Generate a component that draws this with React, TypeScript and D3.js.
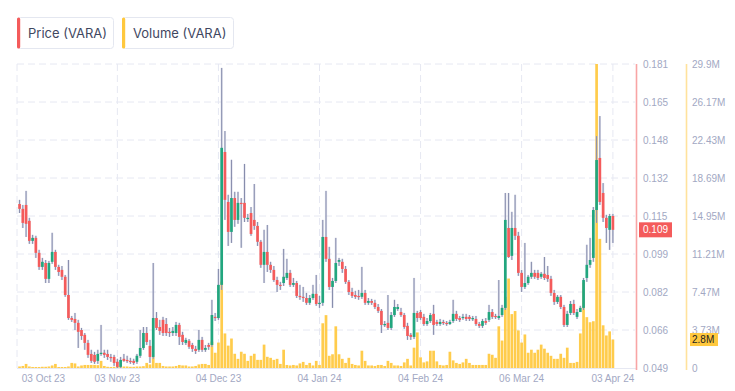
import React from "react";
import * as d3 from "d3";

// ---- data (daily candles starting 2023-10-04) ----
const START_DATE = "2023-10-04";

const open = [
.1202,.1181,.1198,.1129,.1042,.1055,.0990,.0929,.0946,.0877,
.0951,.0994,.0929,.0916,.0886,.0807,.0707,.0703,.0686,.0655,
.0634,.0599,.0551,.0547,.0521,.0551,.0556,.0551,.0538,.0538,
.0517,.0495,.0530,.0525,.0521,.0521,.0517,.0543,.0577,.0642,
.0586,.0538,.0707,.0668,.0699,.0681,.0647,.0642,.0642,.0677,
.0634,.0599,.0608,.0590,.0573,.0569,.0612,.0569,.0590,.0590,
.0712,.0707,.0851,.1428,.1211,.1081,.1228,.1133,.1207,.1207,
.1137,.1163,.1133,.1107,.1038,.0938,.0994,.0938,.0916,.0872,
.0851,.0859,.0881,.0903,.0851,.0859,.0803,.0799,.0794,.0773,
.0794,.0812,.0768,.0773,.1059,.0964,.0842,.0868,.0951,.0951,
.0920,.0864,.0820,.0807,.0803,.0799,.0816,.0773,.0781,.0773,
.0755,.0738,.0677,.0686,.0664,.0720,.0746,.0733,.0720,.0673,
.0634,.0625,.0729,.0733,.0712,.0681,.0694,.0725,.0690,.0681,
.0690,.0686,.0681,.0694,.0725,.0707,.0707,.0712,.0712,.0703,
.0703,.0681,.0673,.0694,.0699,.0733,.0716,.0707,.0720,.0751,
.1098,.0977,.1098,.1064,.0903,.0842,.0859,.0886,.0903,.0903,
.0886,.0899,.0894,.0877,.0816,.0777,.0799,.0755,.0677,.0729,
.0768,.0712,.0733,.0751,.0881,.0938,.0968,.1176,.1402,.1250,
.1142,.1090,.1150
];

const high = [
.1220,.1198,.1259,.1142,.1068,.1064,.1003,.0968,.0959,.0955,
.1077,.1003,.0938,.0933,.0894,.0959,.0716,.0729,.0699,.0664,
.0642,.0612,.0569,.0560,.0569,.0677,.0569,.0569,.0551,.0547,
.0530,.0538,.0551,.0543,.0534,.0530,.0551,.0655,.0668,.0668,
.0612,.0946,.0733,.0699,.0712,.0707,.0664,.0668,.0690,.0686,
.0647,.0621,.0616,.0599,.0586,.0655,.0625,.0590,.0599,.0786,
.0729,.0920,.1793,.1519,.1242,.1394,.1255,.1255,.1228,.1376,
.1159,.1189,.1289,.1124,.1046,.1090,.1111,.0951,.0933,.0886,
.0864,.1007,.0964,.0916,.0881,.0868,.0851,.0842,.0816,.0807,
.0851,.0894,.0803,.1133,.1259,.1016,.0881,.1055,.0968,.0964,
.0933,.0872,.0838,.0825,.0829,.0929,.0829,.0794,.0790,.0786,
.0768,.0746,.0694,.0807,.0733,.0786,.0768,.0751,.0729,.0686,
.0642,.0881,.0738,.0742,.0725,.0707,.0729,.0764,.0699,.0703,
.0699,.0694,.0699,.0786,.0738,.0716,.0725,.0725,.0720,.0716,
.0716,.0690,.0703,.0707,.0764,.0746,.0725,.0872,.0764,.1250,
.1250,.1168,.1242,.1081,.0916,.1033,.0894,.0951,.0916,.0916,
.0907,.0972,.0933,.0890,.0829,.0807,.0807,.0764,.0738,.0781,
.0786,.0746,.0760,.0881,.1025,.1055,.1189,.1497,.1584,.1293,
.1155,.1159,.1159
];

const low = [
.1163,.1098,.1059,.1029,.1029,.0968,.0916,.0916,.0859,.0859,
.0942,.0916,.0890,.0872,.0799,.0699,.0690,.0655,.0577,.0612,
.0569,.0534,.0512,.0508,.0508,.0543,.0534,.0525,.0517,.0499,
.0490,.0490,.0517,.0512,.0508,.0504,.0508,.0534,.0569,.0590,
.0512,.0530,.0655,.0634,.0629,.0629,.0625,.0629,.0629,.0590,
.0590,.0590,.0573,.0560,.0551,.0560,.0560,.0560,.0569,.0582,
.0694,.0699,.0829,.1133,.1020,.1033,.1103,.1116,.1012,.1124,
.1124,.1064,.1090,.1020,.0925,.0859,.0907,.0903,.0864,.0820,
.0829,.0846,.0872,.0842,.0842,.0794,.0786,.0777,.0764,.0764,
.0786,.0760,.0751,.0760,.0951,.0829,.0751,.0859,.0933,.0903,
.0855,.0807,.0794,.0790,.0786,.0790,.0764,.0764,.0764,.0746,
.0729,.0642,.0668,.0655,.0655,.0712,.0738,.0712,.0660,.0612,
.0612,.0616,.0690,.0699,.0673,.0673,.0686,.0634,.0673,.0673,
.0677,.0673,.0677,.0686,.0694,.0690,.0699,.0694,.0694,.0694,
.0673,.0664,.0664,.0677,.0690,.0703,.0703,.0699,.0712,.0742,
.0968,.0959,.1046,.0890,.0820,.0833,.0851,.0877,.0877,.0872,
.0877,.0872,.0864,.0803,.0764,.0768,.0746,.0668,.0668,.0720,
.0720,.0703,.0742,.0742,.0864,.0925,.0951,.1120,.1198,.1124,
.1033,.1003,.1033
];

const close = [
.1181,.1120,.1116,.1042,.1055,.0990,.0929,.0951,.0877,.0946,
.0994,.0929,.0907,.0886,.0807,.0707,.0699,.0686,.0647,.0629,
.0599,.0547,.0521,.0517,.0551,.0556,.0547,.0538,.0534,.0512,
.0495,.0525,.0521,.0521,.0517,.0512,.0543,.0577,.0642,.0603,
.0538,.0707,.0664,.0651,.0642,.0642,.0642,.0651,.0677,.0625,
.0603,.0612,.0582,.0573,.0564,.0612,.0569,.0577,.0582,.0720,
.0707,.0851,.1446,.1220,.1081,.1228,.1133,.1207,.1202,.1142,
.1142,.1072,.1107,.1038,.0938,.0994,.0938,.0916,.0872,.0851,
.0846,.0886,.0903,.0851,.0859,.0803,.0799,.0794,.0773,.0794,
.0812,.0768,.0773,.1059,.0964,.0842,.0868,.0946,.0959,.0920,
.0864,.0820,.0803,.0799,.0799,.0816,.0773,.0781,.0773,.0755,
.0738,.0677,.0681,.0664,.0720,.0755,.0755,.0720,.0668,.0629,
.0625,.0729,.0707,.0707,.0681,.0694,.0720,.0677,.0681,.0690,
.0686,.0681,.0690,.0725,.0703,.0699,.0712,.0703,.0703,.0707,
.0681,.0673,.0694,.0686,.0733,.0712,.0712,.0716,.0751,.1133,
.0972,.1098,.1064,.0903,.0842,.0859,.0886,.0903,.0886,.0881,
.0899,.0881,.0877,.0816,.0777,.0799,.0755,.0677,.0725,.0768,
.0729,.0733,.0751,.0872,.0938,.0959,.1176,.1393,.1211,.1142,
.1098,.1150,.1090
];

// volume in millions
const volumeM = [
0.15,0.2,0.4,0.15,0.1,0.1,0.1,0.12,0.12,0.15,
0.25,0.4,0.1,0.1,0.1,0.15,0.5,0.45,0.15,0.25,
0.3,0.3,0.3,0.3,0.28,0.7,0.2,0.12,0.1,0.12,
0.2,0.18,0.15,0.15,0.12,0.12,0.15,0.15,0.18,0.5,
0.35,1.1,0.5,0.5,0.2,0.15,0.15,0.15,0.2,0.3,
0.25,0.25,0.15,0.15,0.2,0.35,0.4,0.4,0.3,2.6,
1.5,2.5,8.5,3.4,2.2,2.9,1.4,0.9,1.6,1.4,
0.7,1.2,1.4,0.8,0.8,2.3,1.1,1.0,0.8,0.9,
0.4,1.8,0.3,0.25,0.3,0.25,0.45,0.6,0.3,0.5,
0.25,0.7,0.3,4.4,5.2,1.2,1.35,4.1,1.35,0.9,
0.5,1.0,0.4,0.3,0.25,1.7,0.7,0.25,0.25,0.2,
0.3,0.3,0.2,0.7,0.5,0.25,0.25,0.2,0.55,0.9,
0.25,2.0,3.5,1.05,0.55,0.65,1.7,1.7,0.65,0.3,
0.25,0.3,1.6,0.75,0.5,0.4,0.55,0.9,0.5,0.3,
0.3,0.3,0.3,0.3,1.4,1.3,1.0,4.1,2.7,7.0,
8.8,5.3,5.6,3.7,2.5,3.3,1.5,1.8,1.5,1.8,
2.3,1.9,1.5,1.2,0.9,0.9,1.4,1.0,2.0,0.5,
0.5,0.6,3.4,8.4,5.0,4.5,4.6,29.9,12.7,4.2,
3.2,3.6,2.8
];

const priceTicks = [0.049, 0.0655, 0.082, 0.0985, 0.115, 0.1315, 0.148, 0.1645, 0.181];
const priceTickLabels = ["0.049", "0.066", "0.082", "0.099", "0.115", "0.132", "0.148", "0.165", "0.181"];
const volumeTicks = [0, 3.7375, 7.475, 11.2125, 14.95, 18.6875, 22.425, 26.1625, 29.9];
const volumeTickLabels = ["0", "3.73M", "7.47M", "11.21M", "14.95M", "18.69M", "22.43M", "26.17M", "29.9M"];
const dateTicks = ["2023-10-03", "2023-11-03", "2023-12-04", "2024-01-04", "2024-02-04", "2024-03-06", "2024-04-03"];
const dateTickLabels = ["03 Oct 23", "03 Nov 23", "04 Dec 23", "04 Jan 24", "04 Feb 24", "06 Mar 24", "03 Apr 24"];
const legendItems = ["Price (VARA)", "Volume (VARA)"];

const W = 735, H = 391;
const PLOT_L = 17, PLOT_R = 636, PLOT_T = 64, PLOT_B = 368;
const RED = "#f45b5b", GREEN = "#22a67e", WICK = "#878dac", VOL = "#ffc83d";
const TICK_COLOR = "#a2a8c3";
const TICK_FONT = "'Liberation Sans', Arial, sans-serif";

export default function App() {
  const n = Math.min(open.length, high.length, low.length, close.length, volumeM.length);
  const start = new Date(START_DATE + "T00:00:00Z");
  const dates = d3.range(n).map((i) => d3.utcDay.offset(start, i));

  const x = d3.scaleUtc()
    .domain([new Date("2023-10-03T00:00:00Z"), new Date("2024-04-03T00:00:00Z")])
    .range([16.3, 612.9]);
  const yP = d3.scaleLinear().domain([0.049, 0.181]).range([PLOT_B, PLOT_T]);
  const yV = d3.scaleLinear().domain([0, 29.9]).range([PLOT_B, PLOT_T]);

  const bw = 2.7;
  const lastClose = close[n - 1];
  const lastVol = volumeM[n - 1];

  return (
    <svg width={W} height={H} style={{ position: "fixed", left: 0, top: 0, background: "#fff" }}>
      <rect x={0} y={0} width={W} height={H} fill="#fff" />
      {/* legend */}
      {legendItems.map((t, i) => {
        const bx = i === 0 ? 17 : 122;
        const bwid = i === 0 ? 96 : 111;
        const col = i === 0 ? RED : VOL;
        return (
          <g key={t}>
            <rect x={bx + 0.5} y={17.5} width={bwid} height={31} rx={3} fill="#fff" stroke="#e4e7f0" />
            <rect x={bx} y={17.5} width={3.2} height={31} fill={col} rx={1.5} />
            <text x={bx + 11} y={37.5} fontFamily="Inter, 'Open Sans', sans-serif" fontSize={13} fill="#41475f">{t}</text>
          </g>
        );
      })}

      {/* grid */}
      {priceTicks.slice(1).map((p, i) => (
        <line key={"hg" + i} x1={PLOT_L} x2={PLOT_R - 1} y1={yP(p)} y2={yP(p)} stroke="#e6e8f2" strokeDasharray="7,4" />
      ))}
      <line x1={PLOT_L} x2={PLOT_R} y1={PLOT_B + 0.5} y2={PLOT_B + 0.5} stroke="#e6e8f2" />
      {dateTicks.map((d, i) => {
        const xx = Math.max(PLOT_L, x(new Date(d + "T00:00:00Z")));
        return <line key={"vg" + i} x1={xx} x2={xx} y1={PLOT_T} y2={PLOT_B} stroke="#e6e8f2" strokeDasharray="7,4" />;
      })}

      {/* volume bars */}
      {dates.map((d, i) => (
        <rect key={"v" + i} x={x(d) - bw / 2} y={yV(volumeM[i])} width={bw} height={PLOT_B - yV(volumeM[i])} fill={VOL} opacity={0.92} />
      ))}

      {/* candles */}
      {dates.map((d, i) => {
        const cx = x(d);
        const up = close[i] >= open[i];
        const top = yP(Math.max(open[i], close[i]));
        const bot = yP(Math.min(open[i], close[i]));
        return (
          <g key={"c" + i}>
            <line x1={cx} x2={cx} y1={yP(high[i])} y2={yP(low[i])} stroke="#c8cbe0" strokeWidth={2.2} opacity={0.6} />
            <line x1={cx} x2={cx} y1={yP(high[i])} y2={yP(low[i])} stroke={WICK} strokeWidth={1} />
            <rect x={cx - bw / 2} y={top} width={bw} height={Math.max(1.2, bot - top)} fill={up ? GREEN : RED} />
          </g>
        );
      })}

      {/* axes lines */}
      <line x1={636.5} x2={636.5} y1={PLOT_T} y2={PLOT_B + 2} stroke="#f8a5a5" strokeWidth={1.6} />
      <line x1={686.5} x2={686.5} y1={PLOT_T} y2={PLOT_B + 2} stroke="#ffe29c" strokeWidth={1.6} />

      {/* price ticks */}
      {priceTicks.map((p, i) => (
        <text key={"pt" + i} x={643} y={yP(p)} dy="0.35em" fontFamily={TICK_FONT} fontSize={10} fill={TICK_COLOR}>{priceTickLabels[i]}</text>
      ))}
      {/* volume ticks */}
      {volumeTicks.map((v, i) => (
        <text key={"vt" + i} x={692} y={yV(v)} dy="0.35em" fontFamily={TICK_FONT} fontSize={10} fill={TICK_COLOR}>{volumeTickLabels[i]}</text>
      ))}
      {/* date ticks */}
      {dateTicks.map((d, i) => {
        const xx = Math.min(Math.max(x(new Date(d + "T00:00:00Z")), 43.5), 631.5);
        return (
          <text key={"dt" + i} x={xx} y={382} textAnchor="middle" fontFamily={TICK_FONT} fontSize={10} fill={TICK_COLOR}>{dateTickLabels[i]}</text>
        );
      })}

      {/* last value badges */}
      <rect x={639} y={yP(lastClose) - 7.5} width={33} height={15} fill={RED} />
      <text x={643} y={yP(lastClose)} dy="0.35em" fontFamily={TICK_FONT} fontSize={10} fill="#fff">{lastClose.toFixed(3)}</text>
      <rect x={690} y={yV(lastVol) - 6.5} width={28} height={13} fill={VOL} />
      <text x={692} y={yV(lastVol)} dy="0.35em" fontFamily={TICK_FONT} fontSize={10} fill="#222">{lastVol.toFixed(1) + "M"}</text>
    </svg>
  );
}
